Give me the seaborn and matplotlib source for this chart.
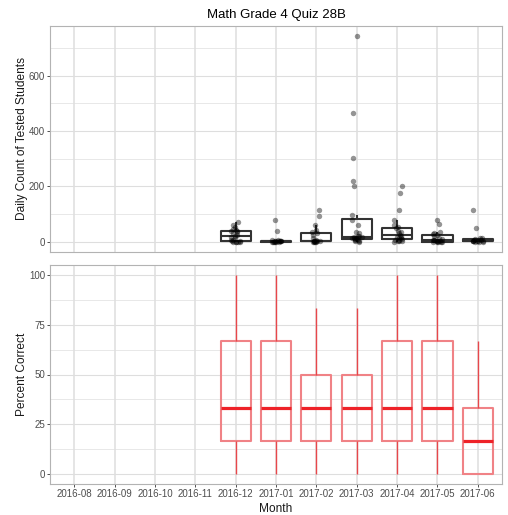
import numpy as np
import pandas as pd
import matplotlib
matplotlib.use("Agg")
import matplotlib.pyplot as plt
from matplotlib.ticker import FixedLocator
import seaborn as sns

# Months on the shared x axis (empty months still get a slot)
months = ["2016-08", "2016-09", "2016-10", "2016-11", "2016-12", "2017-01",
          "2017-02", "2017-03", "2017-04", "2017-05", "2017-06"]

# Daily counts of tested students, per month
count_2016_12 = [0, 0, 0, 0, 0, 1, 2, 5, 8, 12, 16, 22, 26, 30, 34, 38, 40, 42, 46, 55, 62, 70]
count_2017_01 = [0, 0, 0, 0, 0, 0, 1, 1, 1, 1, 2, 3, 4, 5, 6, 38, 80]
count_2017_02 = [0, 0, 0, 0, 1, 1, 2, 3, 4, 4, 8, 15, 25, 30, 35, 44, 59, 93, 115]
count_2017_03 = [0, 2, 4, 6, 8, 9, 10, 12, 14, 15, 16, 17, 19, 22, 30, 36, 60, 78, 95,
                 200, 221, 302, 467, 743]
count_2017_04 = [0, 1, 2, 4, 6, 8, 9, 12, 15, 18, 22, 26, 30, 34, 40, 48, 52, 62, 79,
                 116, 175, 201]
count_2017_05 = [0, 0, 0, 0, 0, 1, 2, 3, 5, 6, 8, 10, 14, 20, 24, 27, 30, 35, 64, 79]
count_2017_06 = [0, 0, 0, 1, 1, 2, 3, 4, 4, 5, 7, 9, 12, 14, 50, 113]

# Questions answered correctly (out of 6) by students, per month
correct_2016_12 = [0, 1, 1, 2, 2, 3, 4, 4, 6]
correct_2017_01 = [0, 1, 1, 2, 2, 3, 4, 4, 6]
correct_2017_02 = [0, 1, 1, 2, 2, 2, 3, 3, 5]
correct_2017_03 = [0, 1, 1, 2, 2, 2, 3, 3, 5]
correct_2017_04 = [0, 1, 1, 2, 2, 3, 4, 4, 6]
correct_2017_05 = [0, 1, 1, 2, 2, 3, 4, 4, 6]
correct_2017_06 = [0, 0, 0, 1, 1, 1, 2, 2, 4]
questions_per_quiz = 6

count_by_month = {
    "2016-12": count_2016_12, "2017-01": count_2017_01, "2017-02": count_2017_02,
    "2017-03": count_2017_03, "2017-04": count_2017_04, "2017-05": count_2017_05,
    "2017-06": count_2017_06,
}
correct_by_month = {
    "2016-12": correct_2016_12, "2017-01": correct_2017_01, "2017-02": correct_2017_02,
    "2017-03": correct_2017_03, "2017-04": correct_2017_04, "2017-05": correct_2017_05,
    "2017-06": correct_2017_06,
}

counts = pd.DataFrame(
    [(m, v) for m, vals in count_by_month.items() for v in vals],
    columns=["month", "students"])
scores = pd.DataFrame(
    [(m, 100.0 * k / questions_per_quiz) for m, vals in correct_by_month.items() for k in vals],
    columns=["month", "percent"])

sns.set_theme(style="white")
plt.rcParams["font.family"] = ["Liberation Sans", "DejaVu Sans"]

W, H = 508, 515
fig = plt.figure(figsize=(W / 100, H / 100), dpi=100)
ax_top = fig.add_axes([50 / W, 1 - 252 / H, 452 / W, 226 / H])
ax_bot = fig.add_axes([50 / W, 1 - 484 / H, 452 / W, 219 / H])

TICK_TXT = "#4D4D4D"
GRID = "#DEDEDE"
BORDER = "#B3B3B3"
TICK_SIZE = 7.0
TITLE_SIZE = 8.6


def style_panel(ax, major, minor):
    ax.set_xlim(-0.6, len(months) - 0.4)
    ax.yaxis.set_major_locator(FixedLocator(major))
    ax.yaxis.set_minor_locator(FixedLocator(minor))
    ax.xaxis.set_major_locator(FixedLocator(range(len(months))))
    ax.grid(True, which="major", axis="y", color=GRID, lw=0.8)
    ax.grid(True, which="minor", axis="y", color=GRID, lw=0.5)
    ax.grid(True, which="major", axis="x", color=GRID, lw=1.1)
    ax.set_axisbelow(True)
    for s in ax.spines.values():
        s.set_color(BORDER)
        s.set_linewidth(0.8)
    ax.tick_params(axis="y", which="major", length=2, width=0.6, color="#333333",
                   labelsize=TICK_SIZE, labelcolor=TICK_TXT, pad=1.6, left=True)
    ax.tick_params(axis="y", which="minor", length=0)


# Top panel: daily counts
sns.boxplot(data=counts, x="month", y="students", order=months, ax=ax_top,
            width=0.75, fill=False, showcaps=False, showfliers=False,
            color="#333333", linewidth=1.5,
            boxprops=dict(color="#333333"), whiskerprops=dict(color="#333333"),
            medianprops=dict(color="#333333", linewidth=1.5))
np.random.seed(3)
sns.stripplot(data=counts, x="month", y="students", order=months, ax=ax_top,
              jitter=0.13, color="black", alpha=0.42, size=3.9, linewidth=0, zorder=3)
lo, hi = counts["students"].min(), counts["students"].max()
pad = 0.05 * (hi - lo)
ax_top.set_ylim(lo - pad, hi + pad)
style_panel(ax_top, [0, 200, 400, 600], [100, 300, 500, 700])
ax_top.tick_params(axis="x", length=0, labelbottom=False)
ax_top.set_xlabel("")
ax_top.set_ylabel("Daily Count of Tested Students", fontsize=TITLE_SIZE, color="#1A1A1A")
ax_top.set_title("Math Grade 4 Quiz 28B", fontsize=9.5, color="black", pad=6)

# Bottom panel: percent correct
sns.boxplot(data=scores, x="month", y="percent", order=months, ax=ax_bot,
            width=0.75, fill=False, showcaps=False, showfliers=False,
            color="#E8383D", linewidth=1.1,
            boxprops=dict(color="#F08286", linewidth=1.5),
            whiskerprops=dict(color="#E8474B", linewidth=1.0),
            medianprops=dict(color="#EE2228", linewidth=2.3))
ax_bot.set_ylim(-5, 105)
style_panel(ax_bot, [0, 25, 50, 75, 100], [12.5, 37.5, 62.5, 87.5])
ax_bot.set_xticks(range(len(months)))
ax_bot.set_xticklabels(months)
ax_bot.tick_params(axis="x", length=2, width=0.6, color="#333333", labelsize=TICK_SIZE,
                   labelcolor=TICK_TXT, pad=1.6, bottom=True)
ax_bot.set_xlabel("Month", fontsize=TITLE_SIZE, color="#1A1A1A", labelpad=3)
ax_bot.set_ylabel("Percent Correct", fontsize=TITLE_SIZE, color="#1A1A1A")

# keep both y-axis titles on the same vertical line
ax_top.yaxis.set_label_coords(-22 / 452, 0.5)
ax_bot.yaxis.set_label_coords(-22 / 452, 0.5)

fig.savefig("out.png", dpi=100, facecolor="white")
